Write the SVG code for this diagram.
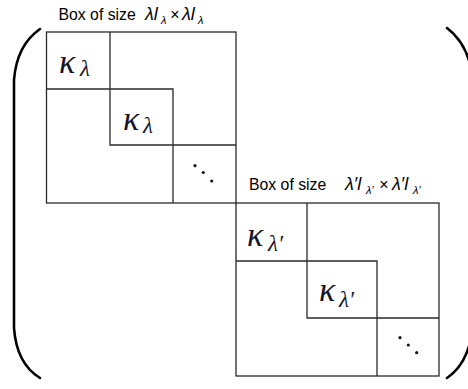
<svg xmlns="http://www.w3.org/2000/svg" width="468" height="389" viewBox="0 0 468 389">
<style>
.ln{fill:none;stroke:#2a2a2a;stroke-width:1.3}
.par{fill:none;stroke:#000;stroke-width:2.6;stroke-linecap:round}
.t{font-family:"Liberation Sans",Arial,sans-serif;font-size:15.8px;fill:#000}
.m{font-family:"Liberation Sans",Arial,sans-serif;font-style:italic;fill:#000}
.k{font-family:"Liberation Serif","DejaVu Serif",serif;font-style:italic;fill:#141428}
.dot{fill:#141428}
</style>
<rect width="468" height="389" fill="#fff"/>
<g id="parens">
<path class="par" d="M40,29 C27,38 16,54 14,80 V328 C16,356 27,370 40,378"/>
<path class="par" d="M447,28 C459,37 470,52 473,80 V326 C470,354 459,370 447,378"/>
</g>
<g id="box1">
<rect class="ln" x="46.5" y="32" width="189.5" height="171"/>
<path class="ln" d="M110,32 V145 H236 M46.5,89 H173 V203"/>
<text class="k" x="59" y="73" font-size="34">κ</text>
<text class="k" x="80" y="76" font-size="23">λ</text>
<text class="k" x="123" y="130" font-size="34">κ</text>
<text class="k" x="143" y="133" font-size="23">λ</text>
<circle class="dot" cx="195" cy="165.7" r="1.6"/>
<circle class="dot" cx="203.3" cy="172.5" r="1.6"/>
<circle class="dot" cx="211.7" cy="181" r="1.6"/>
</g>
<g id="label1">
<text class="t" x="58.5" y="19.5">Box of size</text>
<text class="m" x="145" y="19.5" font-size="18">λl</text>
<text class="m" x="161" y="23.5" font-size="11">λ</text>
<text class="m" x="170" y="19.5" font-size="16">×</text>
<text class="m" x="182" y="19.5" font-size="18">λl</text>
<text class="m" x="198" y="23.5" font-size="11">λ</text>
</g>
<g id="box2">
<rect class="ln" x="236" y="203" width="203" height="173"/>
<path class="ln" d="M307,203 V318 H439 M236,261 H377 V376"/>
<text class="k" x="247" y="246" font-size="34">κ</text>
<text class="k" x="268" y="251" font-size="23">λ′</text>
<text class="k" x="319" y="301" font-size="34">κ</text>
<text class="k" x="339" y="307" font-size="23">λ′</text>
<circle class="dot" cx="400" cy="337.7" r="1.6"/>
<circle class="dot" cx="408.3" cy="345" r="1.6"/>
<circle class="dot" cx="416.7" cy="352.7" r="1.6"/>
</g>
<g id="label2">
<text class="t" x="249" y="189.5">Box of size</text>
<text class="m" x="345" y="189.5" font-size="18">λ′l</text>
<text class="m" x="366" y="193.5" font-size="11">λ′</text>
<text class="m" x="379" y="189.5" font-size="16">×</text>
<text class="m" x="392" y="189.5" font-size="18">λ′l</text>
<text class="m" x="413" y="193.5" font-size="11">λ′</text>
</g>
</svg>
